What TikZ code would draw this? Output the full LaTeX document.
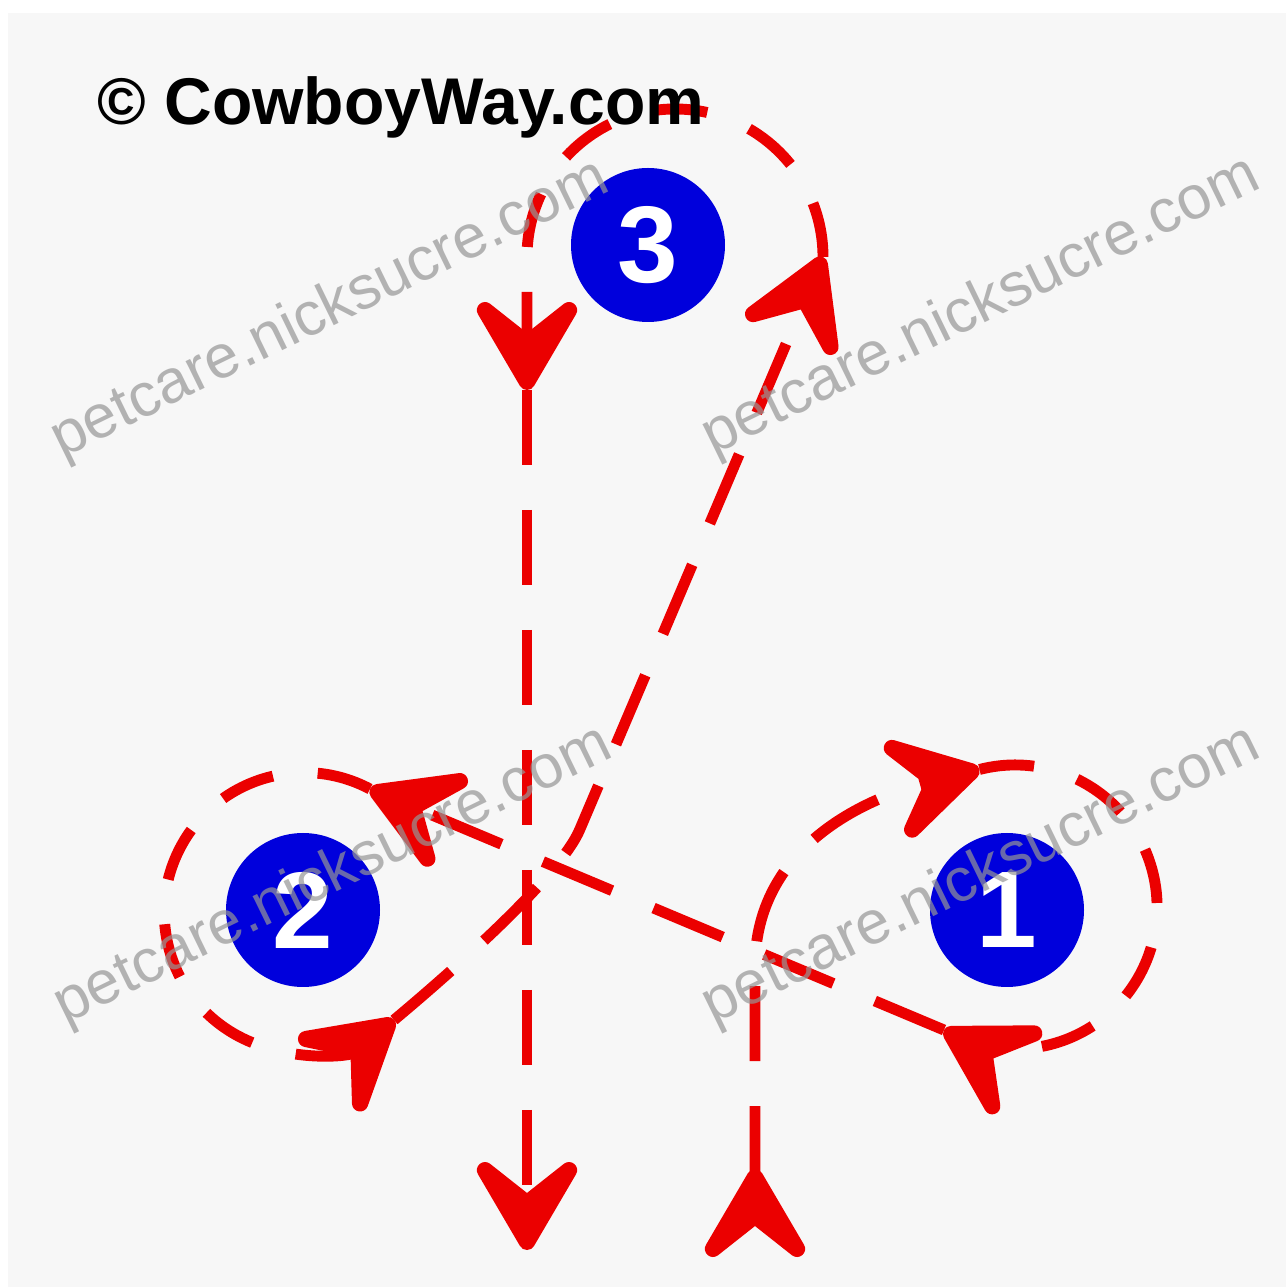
\documentclass[tikz,border=0pt]{standalone}
\usepackage{fontspec}
\setmainfont{Liberation Sans}
\usetikzlibrary{arrows.meta}
\definecolor{routered}{RGB}{235,0,0}
\definecolor{barrelblue}{RGB}{0,0,220}
\definecolor{paper}{RGB}{247,247,247}
\definecolor{wmgray}{RGB}{150,150,150}

\begin{document}
\begin{tikzpicture}[
		>={Stealth[length=12mm,width=14mm,inset=5.5mm,line width=5pt,round]},
		route/.style={draw=routered, line width=3.1pt, dash pattern=on 7.5mm off 4.5mm},
		turn/.style={route, dash pattern=on 5.5mm off 4.5mm},
		barrel/.style={circle, fill=barrelblue, text=white, minimum size=1.54cm, inner sep=0pt, font=\fontsize{31}{31}\selectfont\bfseries},
		wmark/.style={text=wmgray, opacity=0.7, rotate=26, font=\fontsize{17.4}{17.4}\selectfont}
	]
			\useasboundingbox (0,0) rectangle (12.86,12.87);
			\fill[white] (0,0) rectangle (12.86,12.87);
			\fill[paper] (0.08,0) rectangle (12.86,12.74);
			% points on the pattern
			\coordinate (tail) at (7.55,0.30);
			\coordinate (bend) at (7.55,3.2);
			\coordinate (t1) at (9.795,5.175);
			\coordinate (t2) at (9.44,2.57);
			\coordinate (t3) at (3.70,4.98);
			\coordinate (t4) at (3.94,2.67);
			\coordinate (kink) at (5.80,4.58);
			\coordinate (t5) at (8.23,10.30);
			\coordinate (d3) at (5.27,8.97);
			\coordinate (finish) at (5.27,0.37);
			%
			\draw[route, {Stealth[reversed,length=12mm,width=14mm,inset=5.5mm,line width=5pt,round]}->] (tail) -- (bend) .. controls (7.55,4.4) and (8.65,4.89) .. (t1);
			\draw[turn, ->] (t1) arc[start angle=104.5, end angle=-120, radius=1.42];
			\draw[route, ->] (t2) -- (t3);
			\draw[turn, ->] (t3) arc[start angle=62, end angle=310, radius=1.40];
			\draw[route, ->] (t4) .. controls (4.55,3.18) and (5.61,4.12) .. (kink) -- (t5);
			\draw[turn, ->] (t5) arc[start angle=0, end angle=180, radius=1.48] -- (d3);
			\draw[route, ->] (d3) -- (finish);
			% barrels
			\node[barrel] (b1) at (10.07,3.77) {1};
			\node[barrel] (b2) at (3.03,3.77) {2};
			\node[barrel] (b3) at (6.48,10.42) {3};
			\node[anchor=base west, font=\fontsize{18.8}{18.8}\selectfont\bfseries] (credit) at (0.85,11.62) {© CowboyWay.com};
			% watermark
			\node[wmark] (wm1) at (3.30,9.77) {petcare.nicksucre.com};
			\node[wmark] (wm2) at (9.81,9.80) {petcare.nicksucre.com};
			\node[wmark] (wm3) at (3.33,4.11) {petcare.nicksucre.com};
			\node[wmark] (wm4) at (9.81,4.11) {petcare.nicksucre.com};
		\end{tikzpicture}
\end{document}
